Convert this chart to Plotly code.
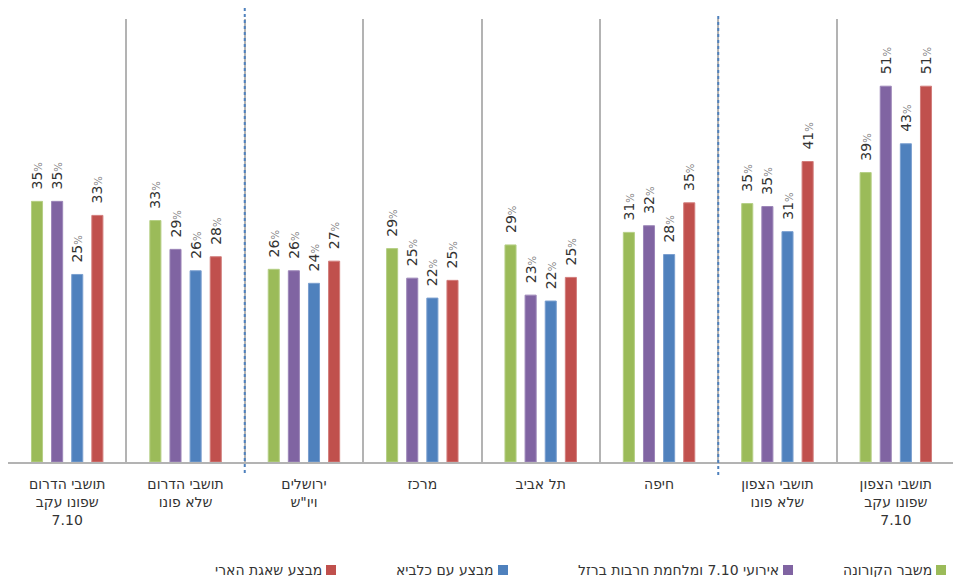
import plotly.graph_objects as go

categories = [
    "תושבי הדרום<br>שפונו עקב<br>7.10",
    "תושבי הדרום<br>שלא פונו",
    "ירושלים<br>ויו\"ש",
    "מרכז",
    "תל אביב",
    "חיפה",
    "תושבי הצפון<br>שלא פונו",
    "תושבי הצפון<br>שפונו עקב<br>7.10",
]

series_names = [
    "משבר הקורונה",
    "אירועי 7.10 ומלחמת חרבות ברזל",
    "מבצע עם כלביא",
    "מבצע שאגת הארי",
]

corona = [35.3, 32.7, 26.1, 28.9, 29.4, 31.1, 35.0, 39.2]
oct7_war = [35.3, 28.8, 25.9, 24.9, 22.6, 32.0, 34.6, 50.9]
am_kelavi = [25.4, 25.9, 24.2, 22.2, 21.8, 28.1, 31.2, 43.1]
shaagat_haari = [33.4, 27.8, 27.2, 24.6, 25.0, 35.1, 40.7, 50.9]

series_values = [corona, oct7_war, am_kelavi, shaagat_haari]
colors = ["#9BBB59", "#8064A2", "#4F81BD", "#C0504D"]
edge_colors = ["#B5CF85", "#9C86B8", "#7A9FCF", "#D27D7B"]

fig = go.Figure()
for name, vals, col, edge in zip(series_names, series_values, colors, edge_colors):
    labels = [
        "\u00a0\u00a0" + f"{round(v):d}" + "<span style='font-size:10px;color:#7f7f7f'>%</span>"
        for v in vals
    ]
    fig.add_trace(go.Bar(
        x=categories, y=vals, name=name,
        marker=dict(color=col, line=dict(color=edge, width=1)),
        text=labels, textposition="outside", textangle=-90,
        constraintext="none", cliponaxis=False,
        textfont=dict(family="DejaVu Sans", size=14, color="#333333"),
        showlegend=False,
    ))

# page body has an 8px margin: figure is offset by 8px in both directions
OFF = 8
W, H = 961 - OFF, 577 - OFF
L, R = 8 - OFF, 961 - 955
T = 19 - OFF
B = H - (462 - OFF)
pw = W - L - R
ph = H - T - B

def px_x(x):
    return (x - 8) / pw

def px_y(y):
    return (462 - y) / ph

# manual RTL legend (marker on the right of text)
legend_items = [
    (series_names[0], colors[0], 946),
    (series_names[1], colors[1], 793),
    (series_names[2], colors[2], 508),
    (series_names[3], colors[3], 336),
]
shapes = []
annotations = []
for name, col, xr in legend_items:
    shapes.append(dict(type="rect", xref="paper", yref="paper",
                       x0=px_x(xr - 10), x1=px_x(xr), y0=px_y(575), y1=px_y(565),
                       fillcolor=col, line=dict(width=0)))
    annotations.append(dict(xref="paper", yref="paper", x=px_x(xr - 12), y=px_y(570),
                            text=name, showarrow=False, xanchor="right", yanchor="middle",
                            font=dict(family="DejaVu Sans", size=14, color="#333333")))

# dotted region separators
shapes.append(dict(type="line", xref="x", yref="paper", x0=1.5, x1=1.5,
                   y0=px_y(473), y1=px_y(4),
                   line=dict(color="#4F81BD", width=2, dash="dot")))
shapes.append(dict(type="line", xref="x", yref="paper", x0=5.5, x1=5.5,
                   y0=px_y(475), y1=px_y(14),
                   line=dict(color="#4F81BD", width=2, dash="dot")))

fig.update_layout(
    width=W, height=H,
    margin=dict(l=L, r=R, t=T, b=B, pad=0),
    paper_bgcolor="white", plot_bgcolor="white",
    barmode="group", bargap=0.32, bargroupgap=0.45,
    font=dict(family="DejaVu Sans", size=14, color="#333333"),
    shapes=shapes, annotations=annotations,
    xaxis=dict(type="category", tickson="boundaries", showgrid=True,
               gridcolor="#b3b3b3", gridwidth=1.5, showline=True,
               linecolor="#b3b3b3", linewidth=1.5, ticks="", range=[-0.5, 7.5],
               ticklabelstandoff=8,
               tickfont=dict(family="DejaVu Sans", size=14, color="#333333"),
               fixedrange=True),
    yaxis=dict(range=[0, 60], visible=False, fixedrange=True),
)

fig.write_html("out.html")
